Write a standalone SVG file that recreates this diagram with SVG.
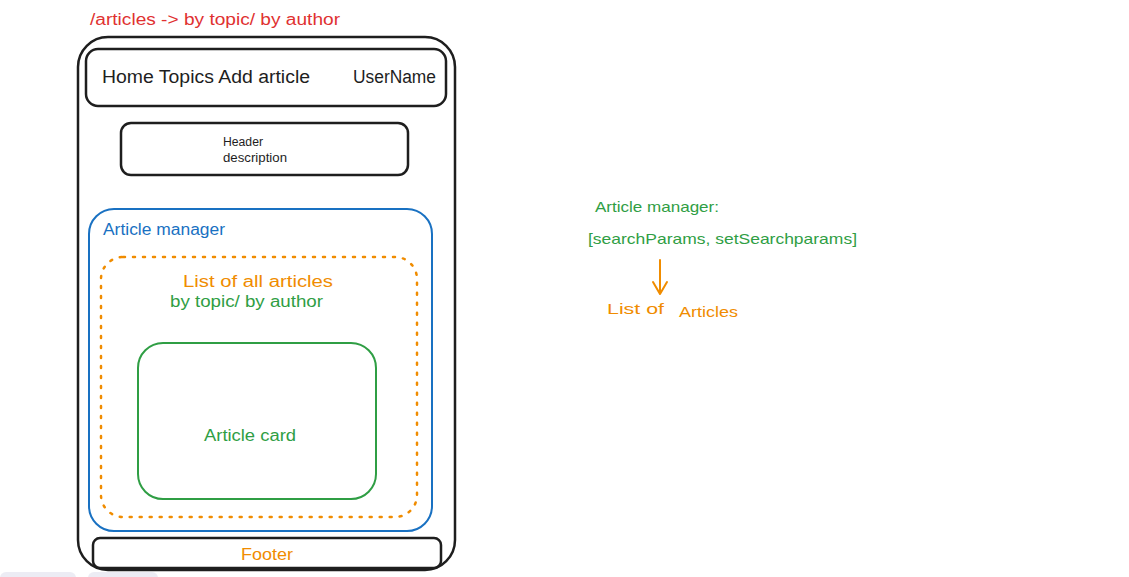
<svg xmlns="http://www.w3.org/2000/svg" width="1129" height="577" viewBox="0 0 1129 577">
<style>
text{font-family:"Liberation Sans",Arial,sans-serif;}
.blk{fill:#1e1e1e}
.red{fill:#e03131}
.blue{fill:#1971c2}
.org{fill:#f08c00}
.grn{fill:#2f9e44}
.box{fill:none;stroke:#1e1e1e;stroke-width:2.5}
</style>
<rect width="1129" height="577" fill="#ffffff"/>
<rect x="0" y="572" width="76" height="12" rx="6" fill="#ececf4"/>
<rect x="88" y="572" width="70" height="12" rx="6" fill="#ececf4"/>
<g id="title">
<text x="90" y="25" font-size="16" class="red" textLength="250" lengthAdjust="spacingAndGlyphs">/articles -&gt; by topic/ by author</text>
</g>
<g id="frame">
<rect x="78" y="37" width="377" height="533" rx="30" class="box"/>
</g>
<g id="navbar">
<rect x="86" y="49" width="360" height="57" rx="12" class="box"/>
<text x="102" y="83" font-size="18" class="blk" textLength="208" lengthAdjust="spacingAndGlyphs">Home Topics Add article</text>
<text x="353" y="83" font-size="18" class="blk" textLength="83" lengthAdjust="spacingAndGlyphs">UserName</text>
</g>
<g id="header">
<rect x="121" y="123" width="287" height="52" rx="10" class="box" stroke-width="2"/>
<text x="223" y="146" font-size="12" class="blk" textLength="40" lengthAdjust="spacingAndGlyphs">Header</text>
<text x="223" y="162" font-size="12" class="blk" textLength="64" lengthAdjust="spacingAndGlyphs">description</text>
</g>
<g id="article-manager">
<rect x="89" y="209" width="343" height="322" rx="25" fill="none" stroke="#1971c2" stroke-width="2"/>
<text x="103" y="235" font-size="16" class="blue" textLength="122" lengthAdjust="spacingAndGlyphs">Article manager</text>
</g>
<g id="article-list">
<rect x="101" y="257" width="316" height="260" rx="22" fill="none" stroke="#f08c00" stroke-width="2.5" stroke-dasharray="2 8" stroke-linecap="round"/>
<text x="183" y="287" font-size="16" class="org" textLength="150" lengthAdjust="spacingAndGlyphs">List of all articles</text>
<text x="170" y="307" font-size="16" class="grn" textLength="153" lengthAdjust="spacingAndGlyphs">by topic/ by author</text>
</g>
<g id="article-card">
<rect x="138" y="343" width="238" height="156" rx="25" fill="none" stroke="#2f9e44" stroke-width="2"/>
<text x="204" y="441" font-size="16" class="grn" textLength="92" lengthAdjust="spacingAndGlyphs">Article card</text>
</g>
<g id="footer">
<rect x="93" y="538" width="348" height="30" rx="7" class="box"/>
<text x="241" y="560" font-size="16" class="org" textLength="52" lengthAdjust="spacingAndGlyphs">Footer</text>
</g>
<g id="manager-state">
<text x="595" y="212" font-size="15" class="grn" textLength="124" lengthAdjust="spacingAndGlyphs">Article manager:</text>
<text x="588" y="244" font-size="15" class="grn" textLength="269" lengthAdjust="spacingAndGlyphs">[searchParams, setSearchparams]</text>
</g>
<g id="list-of-articles">
<text x="607" y="314" font-size="15" class="org" textLength="57" lengthAdjust="spacingAndGlyphs">List of</text>
<text x="679" y="317" font-size="15" class="org" textLength="59" lengthAdjust="spacingAndGlyphs">Articles</text>
</g>
<g id="connectors">
<path d="M660 260 L660 293 M653 282 L660 294 L667 282" fill="none" stroke="#f08c00" stroke-width="2" stroke-linecap="round" stroke-linejoin="round"/>
</g>
</svg>
